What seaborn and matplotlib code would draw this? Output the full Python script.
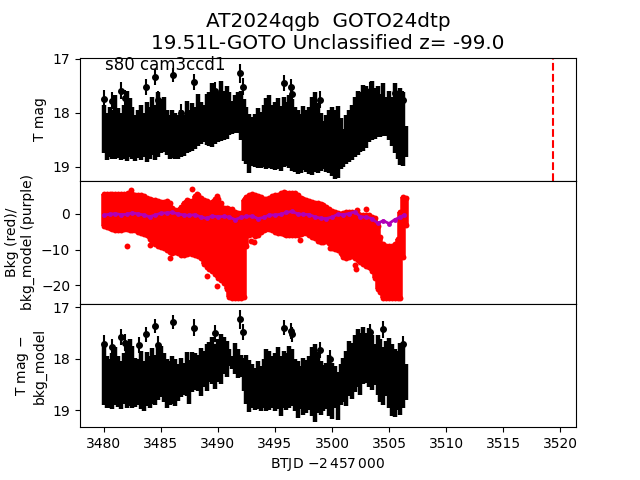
import numpy as np
import pandas as pd
import seaborn as sns
import matplotlib
matplotlib.use('Agg')
import matplotlib.pyplot as plt

# one value every 0.25 d from 3480 to 3506.5
btjd = [3480 + 0.25 * i for i in range(107)]

mag_high = [17.85, 18.00, 17.90, 17.95, 17.68, 17.92, 18.00, 17.85,
            17.60, 17.72, 17.90, 18.05, 17.95, 17.85, 18.00, 17.80,
            17.90, 17.70, 17.85, 17.62, 17.75, 17.70, 17.95, 18.05,
            17.95, 18.00, 18.05, 17.95, 18.05, 17.78, 17.95, 17.82,
            17.90, 17.65, 17.80, 17.85, 17.65, 17.62, 17.45, 17.58,
            17.62, 17.42, 17.60, 17.50, 17.62, 17.78, 17.68, 17.62,
            17.60, 17.75, 17.90, 18.02, 18.08, 18.02, 17.92, 17.98,
            17.85, 17.72, 17.68, 17.85, 17.80, 17.72, 17.88, 17.70,
            17.80, 17.68, 17.75, 17.90, 17.95, 18.02, 17.88, 17.95,
            17.90, 17.70, 17.62, 17.82, 18.00, 18.15, 18.05, 17.95,
            17.90, 17.95, 17.88, 18.10, 18.30, 18.05, 17.95, 17.85,
            17.70, 17.60, 17.62, 17.48, 17.50, 17.62, 17.42, 17.55,
            17.50, 17.65, 17.45, 17.70, 17.60, 17.70, 17.45, 17.62,
            17.55, 17.62, 18.25]
mag_low = [18.75, 18.88, 18.82, 18.85, 18.86, 18.84, 18.88, 18.85,
           18.90, 18.82, 18.86, 18.90, 18.84, 18.88, 18.82, 18.92,
           18.85, 18.78, 18.88, 18.82, 18.75, 18.72, 18.78, 18.85,
           18.84, 18.86, 18.85, 18.82, 18.80, 18.75, 18.72, 18.70,
           18.68, 18.62, 18.58, 18.55, 18.60, 18.62, 18.64, 18.58,
           18.55, 18.52, 18.50, 18.48, 18.42, 18.40, 18.38, 18.38,
           18.50, 18.90, 18.95, 19.12, 18.98, 19.00, 19.02, 19.02,
           19.00, 19.05, 19.03, 19.05, 19.06, 19.05, 19.08, 19.00,
           18.98, 19.02, 19.08, 19.10, 19.14, 19.12, 19.06, 19.10,
           19.14, 19.15, 19.10, 19.12, 19.08, 19.05, 19.10, 19.12,
           19.18, 19.22, 19.20, 19.05, 19.00, 18.95, 18.92, 18.88,
           18.82, 18.78, 18.72, 18.70, 18.65, 18.55, 18.50, 18.48,
           18.45, 18.45, 18.44, 18.44, 18.50, 18.62, 18.75, 18.85,
           18.96, 18.98, 18.82]
mag_pts_t = [3480.0, 3480.7, 3481.5, 3481.85, 3483.7, 3484.5, 3484.7, 3486.1,
             3486.8, 3487.9, 3489.7, 3491.9, 3492.2, 3495.8, 3496.4, 3496.5,
             3498.95, 3502.2, 3503.3, 3505.5, 3506.2]
mag_pts = [17.75, 17.78, 17.59, 17.73, 17.52, 17.34, 17.76, 17.30,
           18.00, 17.43, 17.59, 17.27, 17.52, 17.45, 17.52, 17.65,
           17.76, 17.77, 17.60, 17.64, 17.76]
mag_pts_err = [0.17, 0.16, 0.16, 0.15, 0.15, 0.14, 0.17, 0.13,
               0.16, 0.15, 0.16, 0.18, 0.16, 0.15, 0.15, 0.15,
               0.16, 0.16, 0.16, 0.15, 0.16]

bkg_high = [5.6, 5.7, 5.7, 5.6, 5.6, 5.7, 5.6, 5.6,
            5.5, 5.5, 5.6, 5.4, 5.2, 5.2, 5.0, 4.6,
            4.2, 4.0, 3.9, 3.5, 3.3, 3.3, 3.5, 3.0,
            1.6, 1.2, 1.2, 2.0, 3.2, 3.9, 3.7, 3.6,
            5.0, 5.2, 4.4, 4.0, 3.5, 3.2, 3.4, 4.2,
            4.2, 3.0, 1.8, 1.6, 1.4, 1.4, 0.4, 0.2,
            0.2, 4.0, 4.8, 5.2, 5.5, 5.4, 5.0, 4.8,
            4.2, 4.3, 4.6, 5.0, 5.3, 5.4, 6.0, 6.1,
            6.0, 6.0, 6.0, 5.8, 5.4, 4.6, 4.1, 3.9,
            3.6, 3.4, 3.2, 3.0, 2.9, 2.4, 1.9, 1.4,
            0.8, 0.4, 0.2, -0.1, 0.2, 0.4, 0.5, 0.4,
            0.3, 0.0, -0.2, -0.3, -0.2, -0.4, -0.8, -1.2,
            -3.5, -6.5, -8.5, -9.0, -9.0, -9.0, -8.5, -7.0,
            0.5, 4.8, 4.4]
bkg_low = [-3.4, -3.8, -4.0, -4.2, -4.4, -4.6, -4.5, -4.3,
           -4.2, -4.5, -4.4, -4.6, -5.0, -5.4, -5.6, -6.0,
           -7.0, -7.8, -8.4, -9.0, -9.2, -9.6, -10.0, -10.8,
           -11.0, -10.8, -11.0, -11.4, -11.6, -11.2, -11.0, -11.2,
           -11.6, -11.8, -12.4, -14.0, -15.0, -15.4, -16.0, -17.0,
           -18.0, -18.6, -19.4, -21.0, -23.4, -23.6, -23.5, -23.6,
           -23.6, -23.4, -9.0, -6.0, -5.6, -6.2, -6.0, -5.0,
           -4.5, -4.3, -4.2, -4.6, -5.2, -5.4, -5.5, -5.6,
           -5.8, -5.8, -6.0, -5.8, -6.0, -5.6, -5.4, -5.4,
           -6.0, -6.4, -6.8, -7.6, -8.0, -7.8, -7.6, -8.2,
           -9.6, -9.8, -10.0, -11.0, -12.0, -12.4, -12.2, -11.8,
           -12.5, -13.0, -13.5, -14.0, -14.5, -15.0, -16.0, -18.0,
           -21.0, -22.0, -23.5, -23.6, -23.6, -23.6, -23.6, -23.6,
           -23.5, -12.0, -3.0]
bkg_pts_t = [3482.0, 3484.0, 3485.8, 3489.0, 3489.9, 3482.4, 3482.1, 3487.7, 3488.2, 3489.9,
             3492.9, 3493.2, 3497.2, 3499.8, 3502.1, 3502.0, 3502.2, 3503.0]
bkg_pts = [-8.9, -8.8, -12.3, -17.4, -20.2, 6.8, 6.0, 6.9, 5.6, 4.9,
           -7.6, -8.0, -7.4, -9.6, -15.4, -14.4, 1.2, 1.5]

model_t = [3480 + 0.5 * i for i in range(46)] + [3503.0, 3503.5, 3504.0, 3504.5, 3505.0, 3505.5, 3506.0, 3506.3]
model = [-0.3, -0.1, 0.1, -0.2, -0.1, 0.3, 0.0, -0.3, -0.8, -0.3,
         0.2, 0.3, 0.4, 0.0, -0.3, -0.4, -0.2, -0.9, -1.2, -0.6,
         -0.8, -0.7, -0.9, -1.6, -1.0, -0.7, -0.6, -1.3, -1.0, -0.3,
         -0.3, -0.1, 0.4, 0.7, 0.0, -0.1, -0.2, -0.8, -1.2, -1.3,
         -0.9, -0.1, -0.2, 0.1, 0.6, -0.8,
         -0.9, -1.3, -2.6, -1.9, -2.7, -1.6, -0.9, -0.3]

corr_high = [17.75, 17.95, 18.00, 17.90, 17.78, 17.95, 18.05, 17.90,
             17.72, 17.62, 17.75, 17.98, 18.00, 17.85, 18.05, 17.88,
             17.95, 17.80, 17.92, 17.78, 17.75, 17.90, 18.00, 18.05,
             17.95, 18.00, 18.10, 17.98, 18.08, 17.88, 18.02, 17.88,
             17.90, 17.92, 17.80, 17.85, 17.72, 17.68, 17.58, 17.72,
             17.62, 17.52, 17.58, 17.65, 17.82, 17.95, 17.70, 17.82,
             17.92, 17.98, 17.92, 18.02, 18.10, 18.18, 18.05, 18.15,
             18.00, 17.82, 17.85, 17.95, 17.90, 17.78, 17.95, 17.85,
             17.90, 17.75, 17.82, 18.00, 18.05, 18.15, 17.98, 18.02,
             17.95, 17.78, 17.72, 17.88, 18.05, 18.12, 18.08, 17.92,
             18.08, 18.15, 18.25, 18.10, 17.98, 17.85, 17.65, 17.70,
             17.55, 17.42, 17.50, 17.38, 17.50, 17.40, 17.55, 17.72,
             17.55, 17.62, 17.78, 17.65, 17.60, 17.72, 17.82, 17.85,
             17.70, 17.75, 18.10]
corr_low = [18.90, 18.96, 18.95, 18.98, 18.90, 18.94, 18.98, 18.88,
            18.95, 18.92, 18.96, 18.94, 18.90, 18.98, 19.02, 18.92,
            18.95, 18.88, 18.90, 18.80, 18.75, 18.85, 18.96, 18.90,
            18.88, 18.92, 18.82, 18.75, 18.70, 18.72, 18.88, 18.65,
            18.60, 18.62, 18.72, 18.55, 18.62, 18.45, 18.50, 18.58,
            18.45, 18.50, 18.30, 18.35, 18.15, 18.20, 18.30, 18.38,
            18.35, 18.62, 18.88, 19.04, 18.95, 19.00, 18.98, 19.02,
            18.96, 19.02, 19.00, 18.96, 19.02, 18.98, 19.12, 18.95,
            19.00, 18.96, 18.92, 19.02, 19.15, 18.98, 19.10, 19.05,
            19.00, 19.12, 19.23, 19.05, 19.10, 19.02, 18.98, 19.12,
            19.18, 18.95, 19.20, 18.90, 18.85, 18.92, 18.72, 18.78,
            18.65, 18.55, 18.70, 18.50, 18.48, 18.55, 18.60, 18.52,
            18.70, 18.85, 18.90, 18.72, 18.95, 19.12, 19.14, 19.00,
            19.10, 18.95, 18.80]
corr_pts_t = [3480.0, 3480.7, 3481.5, 3481.85, 3483.1, 3483.7, 3484.5, 3484.7,
              3486.1, 3487.9, 3489.7, 3491.9, 3492.2, 3495.8, 3496.4, 3496.5,
              3498.95, 3499.8, 3502.2, 3503.3, 3504.5, 3505.0, 3506.2]
corr_pts = [17.72, 17.78, 17.58, 17.69, 17.74, 17.53, 17.37, 17.74,
            17.29, 17.40, 17.51, 17.24, 17.48, 17.40, 17.46, 17.53,
            17.83, 18.00, 17.63, 17.48, 17.43, 18.50, 17.72]
corr_pts_err = [0.17, 0.16, 0.16, 0.16, 0.16, 0.15, 0.14, 0.17,
                0.13, 0.16, 0.16, 0.18, 0.16, 0.15, 0.15, 0.15,
                0.16, 0.16, 0.16, 0.16, 0.16, 0.30, 0.16]

t_explosion = 3519.35
xtick_vals = list(range(3480, 3525, 5))

mag_df = pd.DataFrame({'btjd': btjd, 'high': mag_high, 'low': mag_low})
bkg_df = pd.DataFrame({'btjd': btjd, 'high': bkg_high, 'low': bkg_low})
corr_df = pd.DataFrame({'btjd': btjd, 'high': corr_high, 'low': corr_low})


def draw_band(ax, df, pts_t, pts, pts_err):
    mid = (df['high'] + df['low']) / 2
    half = (df['low'] - df['high']) / 2
    ax.errorbar(df['btjd'], mid, yerr=half, fmt='none', ecolor='k', elinewidth=3.2)
    ax.errorbar(pts_t, pts, yerr=pts_err, fmt='o', color='k', ms=4, elinewidth=1.5)


sns.set_style('ticks')
plt.rcParams['axes.edgecolor'] = 'k'
plt.rcParams['xtick.color'] = 'k'
plt.rcParams['ytick.color'] = 'k'
plt.rcParams['axes.labelcolor'] = 'k'
plt.rcParams['text.color'] = 'k'
plt.rcParams['font.family'] = ['DejaVu Sans']

fig, axs = plt.subplots(3, 1, figsize=(6.4, 4.8), sharex=True)
fig.subplots_adjust(hspace=0)
axs[0].set_title('AT2024qgb  GOTO24dtp\n19.51L-GOTO Unclassified z= -99.0', fontsize=14.4, color='k')

# top panel, magnitudes
ax = axs[0]
draw_band(ax, mag_df, mag_pts_t, mag_pts, mag_pts_err)
ax.axvline(t_explosion, color='r', ls='--', lw=1.5)
ax.set_ylim(19.26, 16.98)
ax.set_yticks([17, 18, 19])
ax.set_ylabel('T mag', fontsize=10)
ax.text(3480.05, 17.11, 's80 cam3ccd1', fontsize=12, va='center')

# background
ax = axs[1]
ax.vlines(bkg_df['btjd'], bkg_df['low'], bkg_df['high'], color='r', lw=4)
sns.scatterplot(data=bkg_df, x='btjd', y='high', color='r', s=18, linewidth=0, ax=ax)
sns.scatterplot(data=bkg_df, x='btjd', y='low', color='r', s=18, linewidth=0, ax=ax)
sns.scatterplot(x=bkg_pts_t, y=bkg_pts, color='r', s=18, linewidth=0, ax=ax)
sns.lineplot(x=model_t, y=model, color='#b000b8', lw=2, marker='o', ms=3.5,
             mew=0, errorbar=None, sort=False, ax=ax)
ax.set_ylim(-25.3, 9.3)
ax.set_yticks([0, -10, -20])
ax.set_ylabel('Bkg (red)/\nbkg_model (purple)', fontsize=10)

# corrected magnitudes
ax = axs[2]
draw_band(ax, corr_df, corr_pts_t, corr_pts, corr_pts_err)
ax.set_ylim(19.33, 16.94)
ax.set_yticks([17, 18, 19])
ax.set_ylabel('T mag $-$\nbkg_model', fontsize=10)
ax.set_xlabel('BTJD $-2\\,457\\,000$', fontsize=10)

for ax in axs:
    ax.tick_params(labelsize=10, length=3.5, width=0.8)
    ax.set_xlim(3477.9, 3521.4)
    ax.spines['top'].set_visible(True)
    ax.spines['right'].set_visible(True)
    for s in ax.spines.values():
        s.set_linewidth(0.8)
axs[2].set_xticks(xtick_vals)
axs[0].tick_params(axis='x', length=0)
axs[1].tick_params(axis='x', length=0)

fig.savefig('out.png', dpi=100)
